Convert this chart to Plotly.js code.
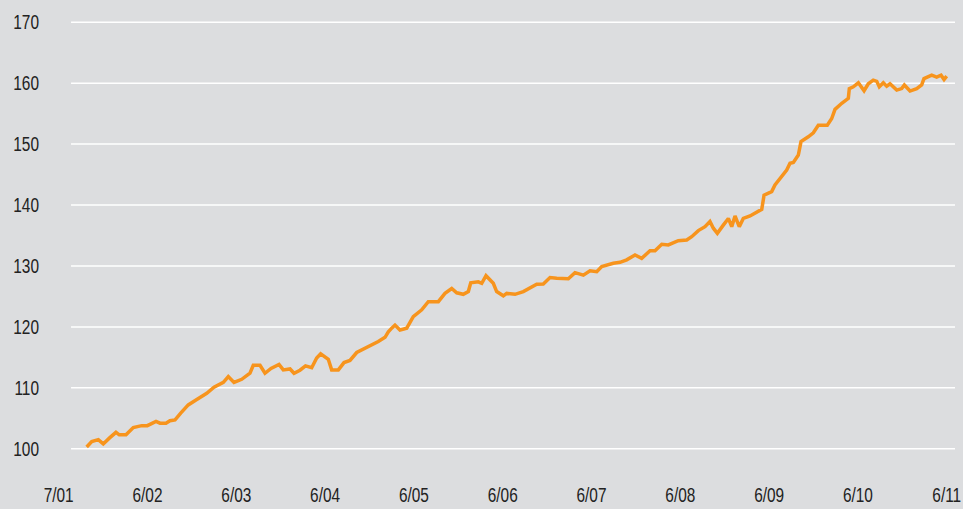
<!DOCTYPE html>
<html>
<head>
<meta charset="utf-8">
<script src="https://cdn.plot.ly/plotly-3.0.1.min.js"></script>
<style>html,body{margin:0;padding:0;background:#dcdddf;}#chart{width:963px;height:509px;}</style>
</head>
<body>
<div id="chart"></div>
<script>
// x position in years from the first tick label (0 = 7/01, 1 = 6/02, ... 10 = 6/11)
const xPos = [0.315,0.372,0.446,0.502,0.570,0.645,0.682,0.758,0.840,0.935,0.998,1.096,1.141,1.208,1.253,1.310,1.374,1.459,1.546,1.667,1.749,1.854,1.910,1.974,2.061,2.154,2.191,2.267,2.323,2.391,2.481,2.529,2.605,2.650,2.717,2.779,2.849,2.905,2.950,3.036,3.074,3.149,3.213,3.280,3.356,3.449,3.543,3.599,3.675,3.712,3.750,3.787,3.843,3.919,3.993,4.088,4.162,4.275,4.350,4.426,4.482,4.556,4.613,4.640,4.725,4.764,4.812,4.894,4.932,5.007,5.045,5.139,5.232,5.327,5.383,5.457,5.533,5.608,5.739,5.814,5.908,5.983,6.059,6.115,6.245,6.321,6.396,6.490,6.565,6.659,6.715,6.791,6.865,6.977,7.072,7.128,7.203,7.278,7.334,7.372,7.417,7.484,7.541,7.579,7.616,7.664,7.709,7.785,7.860,7.917,7.943,8.029,8.066,8.142,8.198,8.235,8.273,8.329,8.359,8.441,8.498,8.554,8.655,8.705,8.742,8.818,8.892,8.903,8.948,9.005,9.069,9.117,9.173,9.212,9.241,9.286,9.324,9.361,9.437,9.493,9.523,9.587,9.662,9.718,9.744,9.831,9.887,9.936,9.970,10.000];
const values = [100.3,101.2,101.5,100.8,101.75,102.7,102.3,102.3,103.5,103.8,103.8,104.5,104.2,104.2,104.6,104.75,105.85,107.2,108.0,109.1,110.1,110.9,111.85,110.9,111.4,112.4,113.7,113.7,112.4,113.2,113.85,112.95,113.1,112.4,112.9,113.6,113.3,114.9,115.6,114.7,112.95,112.95,114.15,114.5,115.8,116.5,117.05,117.6,118.3,119.2,119.8,120.3,119.5,119.8,121.7,122.8,124.15,124.15,125.5,126.3,125.6,125.35,125.8,127.25,127.4,127.15,128.4,127.15,125.8,125.1,125.5,125.35,125.8,126.6,127.0,127.05,128.1,128.0,127.9,128.9,128.5,129.2,129.05,129.9,130.45,130.6,131.0,131.8,131.25,132.5,132.5,133.55,133.45,134.15,134.25,134.8,135.8,136.45,137.3,136.2,135.35,136.7,137.8,136.45,138.2,136.45,137.8,138.2,138.75,139.3,141.6,142.2,143.3,144.65,145.75,146.85,147.0,148.2,150.4,151.2,151.85,153.1,153.1,154.2,155.7,156.7,157.5,159.1,159.4,160.05,158.75,159.9,160.5,160.3,159.4,160.05,159.5,159.9,158.85,159.1,159.7,158.7,159.1,159.7,160.75,161.3,161.0,161.3,160.6,161.15];
const xTickVals = [0,1,2,3,4,5,6,7,8,9,10];
const xTickText = ['7/01','6/02','6/03','6/04','6/05','6/06','6/07','6/08','6/09','6/10','6/11'];
const yTickVals = [100,110,120,130,140,150,160,170];

const bg = '#dcdddf';
const fontFam = '"Liberation Sans Narrow", "Arial Narrow", "Liberation Sans", Arial, sans-serif';

const gridShapes = yTickVals.map(v => ({
  type: 'line', xref: 'paper', yref: 'y',
  x0: 0.0317, x1: 0.9967, y0: v, y1: v,
  line: {color: '#ffffff', width: 1.5}, layer: 'below'
}));

const trace = {
  x: xPos, y: values, type: 'scatter', mode: 'lines',
  line: {color: '#f7941d', width: 3.5},
  hoverinfo: 'skip'
};

const layout = {
  width: 963, height: 509,
  margin: {l: 42, r: 5, t: 10, b: 48, pad: 0},
  paper_bgcolor: bg, plot_bgcolor: bg,
  showlegend: false,
  font: {family: fontFam, size: 20, color: '#222222'},
  xaxis: {
    range: [-0.188, 10.127], tickvals: xTickVals, ticktext: xTickText,
    showgrid: false, zeroline: false, showline: false, ticks: '',
    ticklabelstandoff: 20, ticklabeloverflow: 'allow', fixedrange: true
  },
  yaxis: {
    range: [98, 172], tickvals: yTickVals,
    showgrid: false, zeroline: false, showline: false, ticks: '',
    ticklabelstandoff: 2, ticklabeloverflow: 'allow', fixedrange: true
  },
  shapes: gridShapes
};

function narrowMissing() {
  const c = document.createElement('canvas').getContext('2d');
  c.font = '20px "Liberation Sans Narrow", "Liberation Sans"';
  const a = c.measureText('0123456789').width;
  c.font = '20px "Liberation Sans"';
  const b = c.measureText('0123456789').width;
  return Math.abs(a - b) < 0.5;
}

Plotly.newPlot('chart', [trace], layout, {displayModeBar: false, staticPlot: true}).then(gd => {
  // condense the tick labels to mimic the narrow typeface of the reference
  if (narrowMissing()) {
    gd.querySelectorAll('.xtick text, .ytick text').forEach(t => {
      const w = t.getComputedTextLength();
      t.setAttribute('textLength', (w * 0.77).toFixed(2));
      t.setAttribute('lengthAdjust', 'spacingAndGlyphs');
    });
  }
});
</script>
</body>
</html>
